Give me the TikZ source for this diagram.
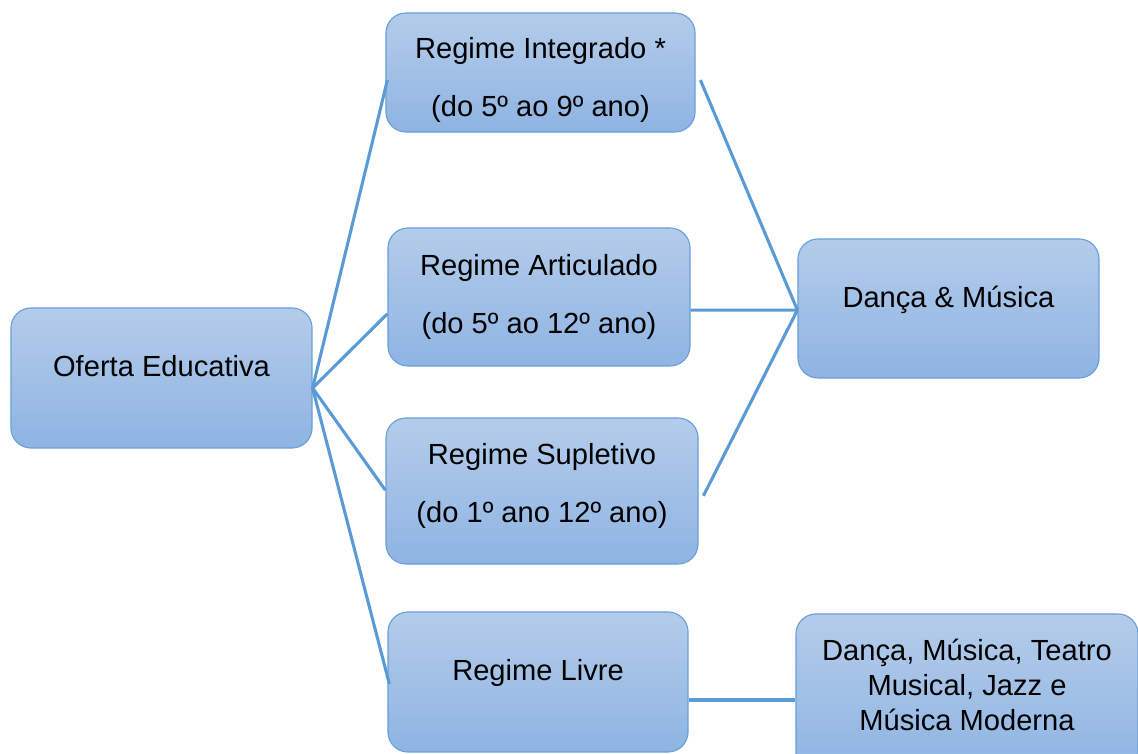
\documentclass[tikz,border=0pt]{standalone}
\usepackage{fontspec}
\setmainfont{Liberation Sans}
\usetikzlibrary{calc}
\definecolor{boxtop}{HTML}{B4CCEA}
\definecolor{boxbot}{HTML}{8EB4E3}
\definecolor{boxline}{HTML}{6A9FD8}
\definecolor{linkblue}{HTML}{5B9BD5}
\tikzstyle{block} = [rectangle, rounded corners=0.5cm, text centered, align=center, draw=boxline, line width=0.8pt, top color=boxtop, bottom color=boxbot, font=\fontsize{20.7}{25}\selectfont]
\tikzstyle{link} = [draw=linkblue, line width=2.2pt]

\begin{document}
\begin{tikzpicture}[x=0.025cm, y=-0.025cm]
	\useasboundingbox (0,0) rectangle (1138,754);
	
	% Nodes
	\node (oferta) [block, minimum width=7.525cm, minimum height=3.5cm, text depth=0.6cm] at (161.5,378) {Oferta Educativa};
	\node (integrado) [block, minimum width=7.725cm, minimum height=2.975cm, text height=2.33cm] at (540.5,72.5) {Regime Integrado *\\[16pt](do 5º ao 9º ano)};
	\node (articulado) [block, minimum width=7.55cm, minimum height=3.45cm] at (539,297) {Regime Articulado\\[16pt](do 5º ao 12º ano)};
	\node (supletivo) [block, minimum width=7.8cm, minimum height=3.65cm, text depth=0.4cm] at (542,491) {Regime Supletivo\\[16pt](do 1º ano 12º ano)};
	\node (livre) [block, minimum width=7.5cm, minimum height=3.5cm, text depth=0.6cm] at (538,682) {Regime Livre};
	\node (danca) [block, minimum width=7.525cm, minimum height=3.475cm, text depth=0.6cm] at (948.5,308.5) {Dança \& Música};
	\node (teatro) [block, minimum width=8.55cm, minimum height=4cm, text depth=0.46cm] at (967,694) {Dança, Música, Teatro\\Musical, Jazz e\\Música Moderna};
	
	% Lines
	\coordinate (hub) at ([yshift=-0.25cm]oferta.east);
	\coordinate (meet) at ([yshift=-0.04cm]danca.west);
	\draw [link] (hub) -- ([xshift=0.05cm, yshift=-0.19cm]integrado.west);
	\draw [link] (hub) -- ([yshift=-0.42cm]articulado.west);
	\draw [link] (hub) -- ([yshift=0.02cm]supletivo.west);
	\draw [link] (hub) -- ([xshift=0.05cm, yshift=-0.05cm]livre.east -| livre.west);
	\draw [link] ([xshift=0.12cm, yshift=-0.19cm]integrado.east) -- (meet);
	\draw [link] ([yshift=-0.33cm]articulado.east) -- (meet);
	\draw [link] ([xshift=0.12cm, yshift=-0.12cm]supletivo.east) -- (meet);
	\draw [link] ([yshift=-0.45cm]livre.east) -- ([yshift=-0.45cm]livre.east -| teatro.west);
	
\end{tikzpicture}
\end{document}
